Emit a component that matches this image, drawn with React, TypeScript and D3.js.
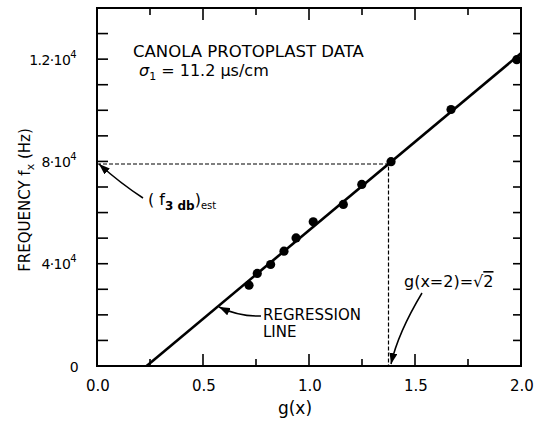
import React, { useEffect, useRef } from "react";
import * as d3 from "d3";

// measured points, g(x) vs frequency (in units of 10^4 Hz)
const gValues = [0.717, 0.756, 0.819, 0.882, 0.939, 1.02, 1.162, 1.249, 1.387, 1.67, 1.98];
const freqValues = [3.16, 3.62, 3.97, 4.49, 5.01, 5.64, 6.32, 7.1, 7.99, 10.03, 11.98];

// regression line end points
const regressionG = [0.234, 2.0];
const regressionF = [0, 12.23];

// estimated f3db read at g(x=2)
const gEst = 1.375;
const fEst = 7.9;

const xMajorTicks = [0, 0.5, 1, 1.5, 2];
const xMinorTicks = [0.25, 0.75, 1.25, 1.75];
const xTickLabels = ["0.0", "0.5", "1.0", "1.5", "2.0"];
const yTicks = [1, 2, 3, 4, 5, 6, 7, 8, 9, 10, 11, 12, 13];
const yLabelTicks = [0, 4, 8, 12];
const yTickMantissa = ["0", "4·10", "8·10", "1.2·10"];
const yTickExponent = ["", "4", "4", "4"];

const width = 534;
const height = 426;
const font = "DejaVu Sans, sans-serif";

const App = () => {
  const ref = useRef(null);

  useEffect(() => {
    const svg = d3.select(ref.current);
    svg.selectAll("*").remove();

    const x = d3.scaleLinear().domain([0, 2]).range([97, 521]);
    const y = d3.scaleLinear().domain([0, 14]).range([366, 8]);
    const [x0, x1] = x.range();
    const [y0, y1] = y.range();

    svg
      .append("defs")
      .append("marker")
      .attr("id", "arrow")
      .attr("markerUnits", "userSpaceOnUse")
      .attr("markerWidth", 11)
      .attr("markerHeight", 8)
      .attr("refX", 11)
      .attr("refY", 4)
      .attr("orient", "auto")
      .append("path")
      .attr("d", "M0,0 L11,4 L0,8 Z")
      .attr("fill", "#000");

    // frame
    svg
      .append("rect")
      .attr("x", x0)
      .attr("y", y1)
      .attr("width", x1 - x0)
      .attr("height", y0 - y1)
      .attr("fill", "none")
      .attr("stroke", "#000")
      .attr("stroke-width", 2);

    // ticks, all pointing inward
    const tk = svg.append("g").attr("stroke", "#000").attr("stroke-width", 1.6);
    xMajorTicks.slice(1, -1).forEach((v) => {
      tk.append("line").attr("x1", x(v)).attr("x2", x(v)).attr("y1", y0).attr("y2", y0 - 12);
      tk.append("line").attr("x1", x(v)).attr("x2", x(v)).attr("y1", y1).attr("y2", y1 + 12);
    });
    xMinorTicks.forEach((v) => {
      tk.append("line").attr("x1", x(v)).attr("x2", x(v)).attr("y1", y0).attr("y2", y0 - 7);
      tk.append("line").attr("x1", x(v)).attr("x2", x(v)).attr("y1", y1).attr("y2", y1 + 7);
    });
    yTicks.forEach((v) => {
      tk.append("line").attr("x1", x0).attr("x2", x0 + 11).attr("y1", y(v)).attr("y2", y(v));
      tk.append("line").attr("x1", x1).attr("x2", x1 - 8).attr("y1", y(v)).attr("y2", y(v));
    });

    // tick labels
    svg
      .append("g")
      .attr("font-family", font)
      .attr("font-size", 15)
      .attr("text-anchor", "middle")
      .selectAll("text")
      .data(xMajorTicks)
      .join("text")
      .attr("x", (d) => x(d) + 1)
      .attr("y", y0 + 25)
      .text((d, i) => xTickLabels[i]);

    const yl = svg
      .append("g")
      .attr("font-family", font)
      .attr("font-size", 14)
      .attr("letter-spacing", -0.6)
      .attr("text-anchor", "end")
      .selectAll("text")
      .data(yLabelTicks)
      .join("text")
      .attr("x", (d, i) => (i === 0 ? 78 : 76))
      .attr("y", (d) => y(d) + 5.5);
    yl.append("tspan").text((d, i) => yTickMantissa[i]);
    yl.filter((d, i) => yTickExponent[i] !== "")
      .append("tspan")
      .attr("font-size", 10)
      .attr("dy", -7)
      .text((d) => yTickExponent[yLabelTicks.indexOf(d)]);

    // axis titles
    svg
      .append("text")
      .attr("font-family", font)
      .attr("font-size", 17)
      .attr("text-anchor", "middle")
      .attr("x", 295)
      .attr("y", 414)
      .text("g(x)");

    const yt = svg
      .append("text")
      .attr("font-family", font)
      .attr("font-size", 15)
      .attr("text-anchor", "middle")
      .attr("transform", "translate(30,200) rotate(-90)");
    yt.append("tspan").text("FREQUENCY f");
    yt.append("tspan").attr("font-size", 11).attr("dy", 4).text("x");
    yt.append("tspan").attr("dy", -4).text(" (Hz)");

    // dashed guides at the estimate
    svg
      .append("path")
      .attr("d", `M${x0},${y(fEst)} H${x(gEst)} V${y0}`)
      .attr("fill", "none")
      .attr("stroke", "#000")
      .attr("stroke-width", 1.2)
      .attr("stroke-dasharray", "4,2");

    // regression line
    svg
      .append("line")
      .attr("x1", x(regressionG[0]))
      .attr("y1", y(regressionF[0]))
      .attr("x2", x(regressionG[1]))
      .attr("y2", y(regressionF[1]))
      .attr("stroke", "#000")
      .attr("stroke-width", 2.6);

    // data points
    svg
      .append("g")
      .selectAll("circle")
      .data(gValues)
      .join("circle")
      .attr("cx", (d) => x(d))
      .attr("cy", (d, i) => y(freqValues[i]))
      .attr("r", 4.6)
      .attr("fill", "#000");

    // annotations
    const ann = svg.append("g").attr("font-family", font).attr("fill", "#000");
    ann.append("text").attr("x", 133).attr("y", 57).attr("font-size", 16.5).text("CANOLA PROTOPLAST DATA");

    const sig = ann.append("text").attr("x", 139).attr("y", 76).attr("font-size", 16);
    sig.append("tspan").attr("font-style", "italic").text("σ");
    sig.append("tspan").attr("font-size", 11).attr("dy", 4).text("1");
    sig.append("tspan").attr("dy", -4).text(" = 11.2 μs/cm");

    const f3 = ann.append("text").attr("x", 148).attr("y", 205).attr("font-size", 16);
    f3.append("tspan").text("( f");
    f3.append("tspan").attr("font-size", 12).attr("font-weight", "bold").attr("dy", 5).text("3 db");
    f3.append("tspan").attr("dy", -5).text(")");
    f3.append("tspan").attr("font-size", 10).attr("dy", 4).text("est");

    const reg = ann.append("text").attr("font-size", 15);
    reg.append("tspan").attr("x", 263).attr("y", 320).text("REGRESSION");
    reg.append("tspan").attr("x", 263).attr("y", 337).text("LINE");

    const gx = ann.append("text").attr("x", 404).attr("y", 287).attr("font-size", 16);
    gx.append("tspan").text("g(x=2)=√");
    gx.append("tspan").attr("text-decoration", "overline").text("2");

    const arrows = [
      "M143,198 Q120,183 99,164",
      "M261,316 Q240,317 219,307",
      "M422,293 Q398,333 391,364",
    ];
    svg
      .append("g")
      .selectAll("path")
      .data(arrows)
      .join("path")
      .attr("d", (d) => d)
      .attr("fill", "none")
      .attr("stroke", "#000")
      .attr("stroke-width", 1.5)
      .attr("marker-end", "url(#arrow)");
  }, []);

  return (
    <svg
      ref={ref}
      width={width}
      height={height}
      style={{ position: "absolute", left: 0, top: 0, background: "#fff" }}
    ></svg>
  );
};

export default App;
